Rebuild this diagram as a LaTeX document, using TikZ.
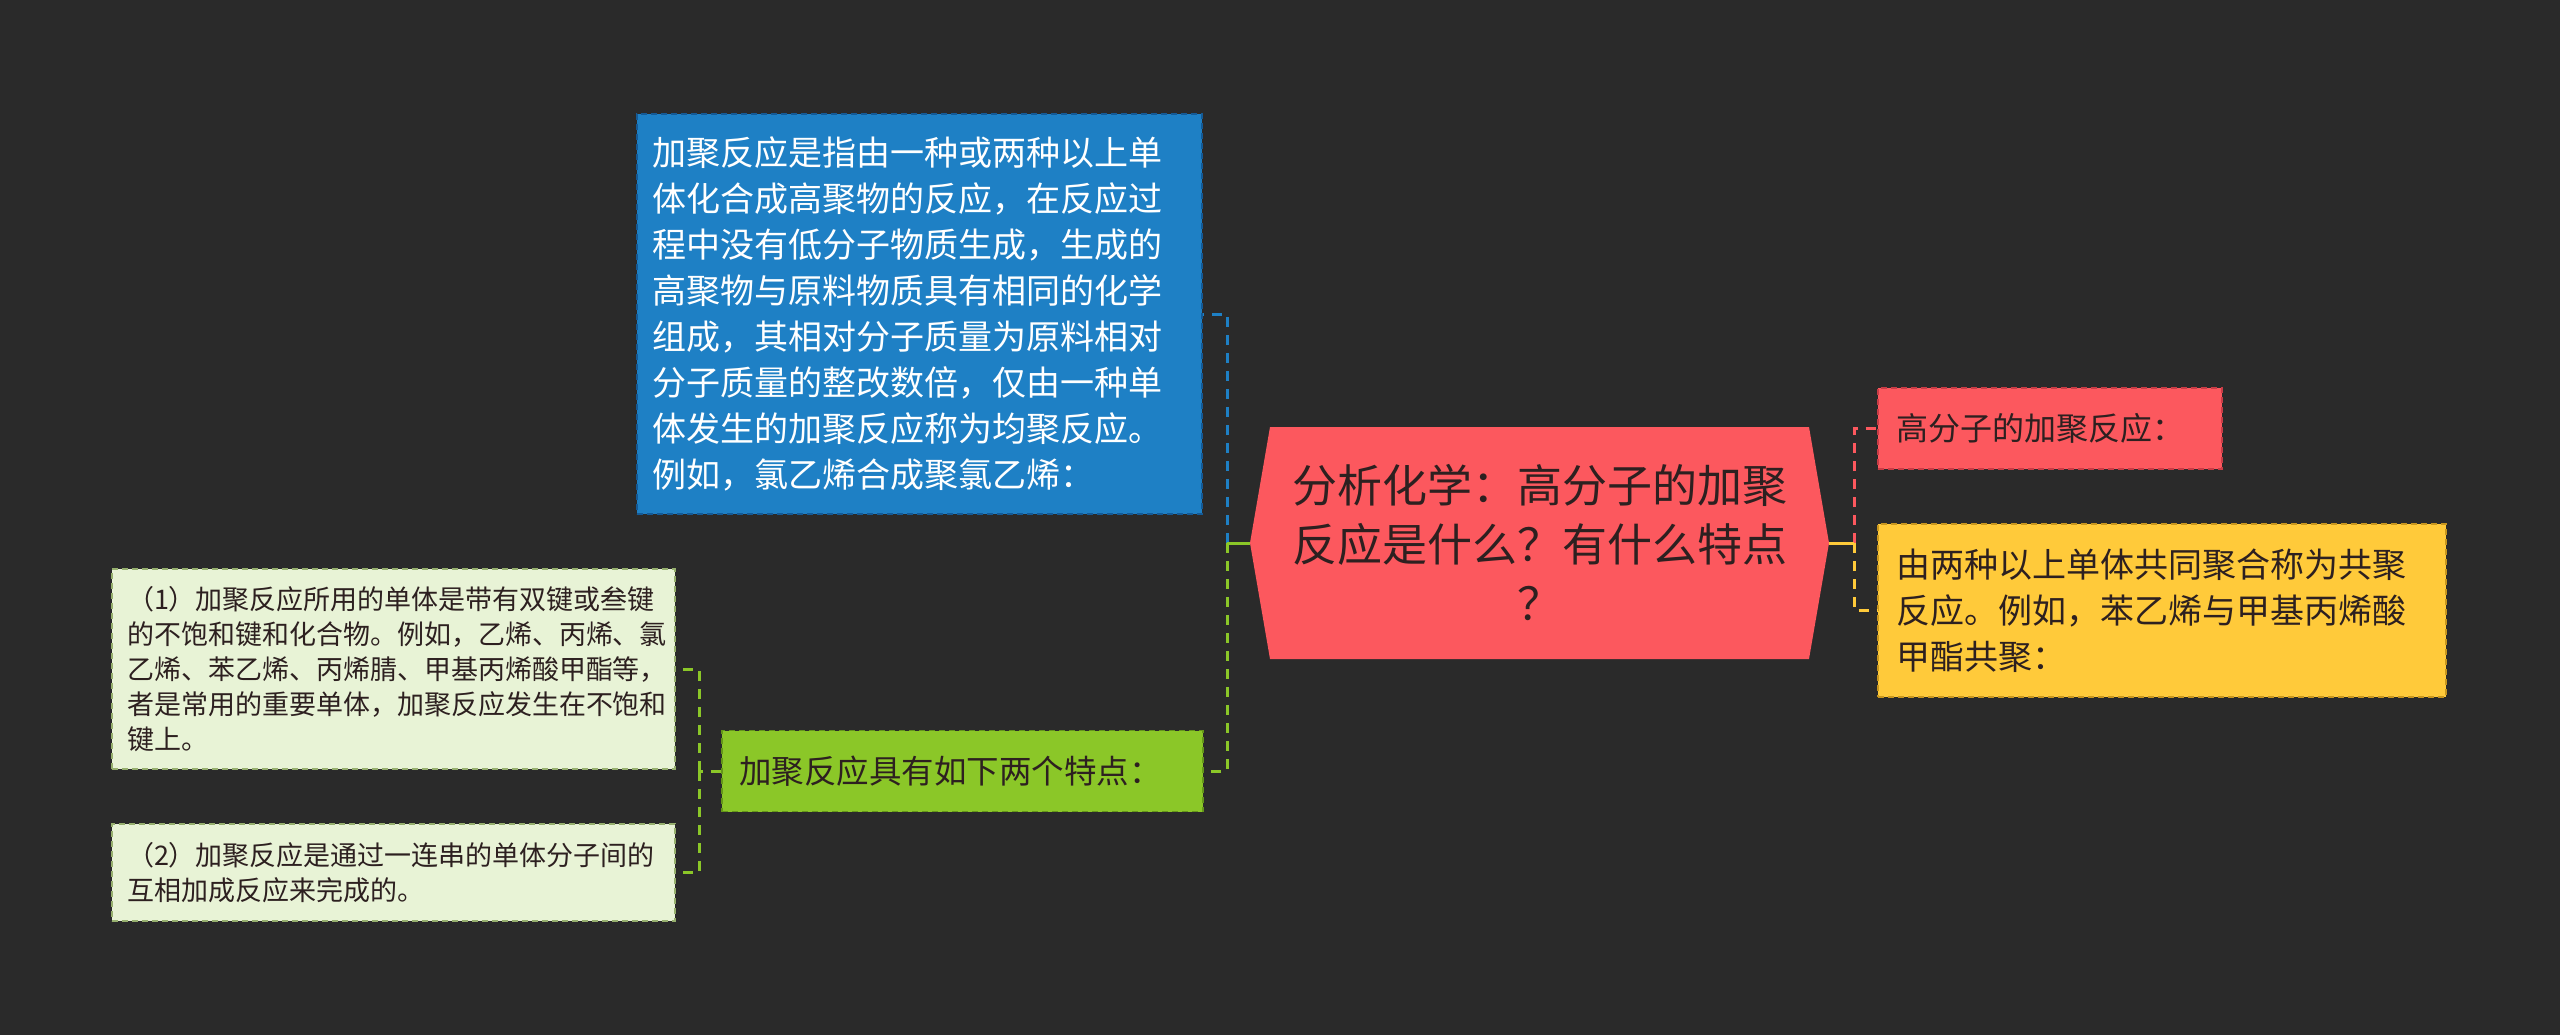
\documentclass[tikz,border=0pt]{standalone}
\usepackage{fontspec}
\setmainfont{Noto Sans CJK SC}
\definecolor{bg}{RGB}{42,42,42}
\definecolor{bluefill}{RGB}{30,128,197}
\definecolor{blueedge}{RGB}{20,90,150}
\definecolor{redfill}{RGB}{252,88,94}
\definecolor{rededge}{RGB}{200,60,70}
\definecolor{yelfill}{RGB}{255,202,58}
\definecolor{yeledge}{RGB}{200,150,30}
\definecolor{grnfill}{RGB}{139,199,40}
\definecolor{grnedge}{RGB}{100,150,25}
\definecolor{leaffill}{RGB}{232,243,214}
\definecolor{leafedge}{RGB}{150,175,110}
\definecolor{darktext}{RGB}{45,32,32}
\tikzset{
  box/.style={draw, dash pattern=on 6pt off 4pt, line width=1.8pt, align=left,
    inner xsep=15pt, inner ysep=0pt, anchor=center},
  bluebox/.style={box, fill=bluefill, draw=blueedge, text=white,
    font=\fontsize{34}{46}\selectfont},
  pinkbox/.style={box, fill=redfill, draw=rededge, text=darktext,
    font=\fontsize{32}{44}\selectfont, inner xsep=18pt},
  yelbox/.style={box, fill=yelfill, draw=yeledge, text=darktext,
    font=\fontsize{34}{46}\selectfont, inner xsep=18pt},
  grnbox/.style={box, fill=grnfill, draw=grnedge, text=darktext,
    font=\fontsize{32.5}{44}\selectfont, inner xsep=17pt},
  leafbox/.style={box, fill=leaffill, draw=leafedge, text=darktext,
    font=\fontsize{27}{35}\selectfont},
  conn/.style={line width=3pt, dash pattern=on 10pt off 8pt},
}
\begin{document}
\begin{tikzpicture}[x=1pt,y=-1pt]
\fill[bg] (0,0) rectangle (2560,1035);
\useasboundingbox (0,0) rectangle (2560,1035);

% central topic
\coordinate (cL) at (1250,543);
\coordinate (cR) at (1829,543);
\fill[redfill] (1270,427) -- (1809,427) -- (cR) -- (1809,659) -- (1270,659) -- (cL) -- cycle;
\node[text=darktext, align=center, font=\fontsize{45}{59}\selectfont] (center) at (1540,543)
  {分析化学：高分子的加聚\\反应是什么？有什么特点\\？};

% left branches
\node[bluebox, text width=535pt, minimum height=400pt] (blue) at (919.5,314)
  {加聚反应是指由一种或两种以上单\\体化合成高聚物的反应，在反应过\\程中没有低分子物质生成，生成的\\高聚物与原料物质具有相同的化学\\组成，其相对分子质量为原料相对\\分子质量的整改数倍，仅由一种单\\体发生的加聚反应称为均聚反应。\\例如，氯乙烯合成聚氯乙烯：};
\node[grnbox, text width=447pt, minimum height=81pt] (green) at (962.5,771)
  {加聚反应具有如下两个特点：};
\node[leafbox, text width=533pt, minimum height=200pt] (leafa) at (393.5,669)
  {（1）加聚反应所用的单体是带有双键或叁键\\的不饱和键和化合物。例如，乙烯、丙烯、氯\\乙烯、苯乙烯、丙烯腈、甲基丙烯酸甲酯等，\\者是常用的重要单体，加聚反应发生在不饱和\\键上。};
\node[leafbox, text width=533pt, minimum height=97pt] (leafb) at (393.5,872.5)
  {（2）加聚反应是通过一连串的单体分子间的\\互相加成反应来完成的。};

% right branches
\node[pinkbox, text width=308pt, minimum height=81pt] (pink) at (2050,428.5)
  {高分子的加聚反应：};
\node[yelbox, text width=532pt, minimum height=173pt] (yellow) at (2162,610.5)
  {由两种以上单体共同聚合称为共聚\\反应。例如，苯乙烯与甲基丙烯酸\\甲酯共聚：};

% connectors
\coordinate (jl) at (1227,543);
\coordinate (jg) at (699,771);
\coordinate (jr) at (1854,543);
\draw[conn, draw=bluefill] (jl) |- (blue.east);
\draw[conn, draw=grnfill] (jl) |- (green.east);
\draw[line width=3pt, draw=grnfill] (cL) -- (jl);
\draw[conn, draw=grnfill] (green.west) -- (jg);
\draw[conn, draw=grnfill] (jg) |- (leafa.east);
\draw[conn, draw=grnfill] (jg) |- (leafb.east);
\draw[conn, draw=redfill] (jr) |- (pink.west);
\draw[conn, draw=yelfill] (jr) |- (yellow.west);
\draw[line width=3pt, draw=yelfill] (cR) -- (jr);
\end{tikzpicture}
\end{document}
